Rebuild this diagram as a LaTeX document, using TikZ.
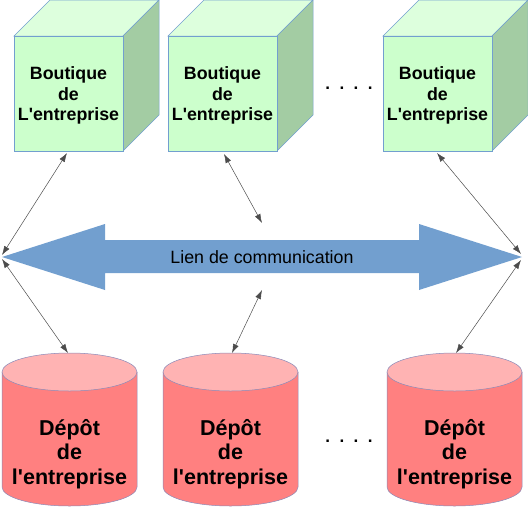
\documentclass[tikz,border=0pt]{standalone}
\usepackage{fontspec}
\setmainfont{Liberation Sans}[Ligatures=TeXOff]
\usetikzlibrary{arrows.meta}
\definecolor{cubefront}{HTML}{CCFFCC}
\definecolor{cubetop}{HTML}{DDFFDD}
\definecolor{cubeside}{HTML}{A3CCA3}
\definecolor{cubeedge}{HTML}{729FCF}
\definecolor{cylbody}{HTML}{FF8080}
\definecolor{cyltop}{HTML}{FFB3B3}
\definecolor{cyledge}{HTML}{8A8AB8}
\definecolor{linkblue}{HTML}{729FCF}
\tikzset{
  cubetext/.style={font=\fontsize{17.8}{20.5}\selectfont\bfseries, align=center, inner sep=0pt},
  cyltext/.style={font=\fontsize{21.5}{24.5}\selectfont\bfseries, align=center, inner sep=0pt},
  conn/.style={draw=black!70, line width=0.5pt, {Latex[length=9pt,width=6pt]}-{Latex[length=9pt,width=6pt]}},
  dots/.style={font=\fontsize{17}{20}\selectfont\bfseries, inner sep=0pt}
}
\newcommand{\mycube}[3]{% x of front left, name, text
  \fill[cubetop,draw=cubeedge,line width=0.5pt] (#1,36) -- (#1+36,0) -- (#1+145,0) -- (#1+109,36) -- cycle;
  \fill[cubeside,draw=cubeedge,line width=0.5pt] (#1+109,36) -- (#1+145,0) -- (#1+145,115) -- (#1+109,151) -- cycle;
  \fill[cubefront,draw=cubeedge,line width=0.5pt] (#1,36) rectangle (#1+109,151);
  \node[cubetext] (#2) at (#1+54.5,95.5) {#3};
}
\newcommand{\mycyl}[3]{% center x, name, text
  \fill[cylbody,draw=cyledge,line width=0.5pt] (#1-67.5,372) -- (#1-67.5,487) arc[start angle=180,end angle=0,x radius=67.5,y radius=19] -- (#1+67.5,372) -- cycle;
  \fill[cyltop,draw=cyledge,line width=0.5pt] (#1,372) ellipse[x radius=67.5,y radius=19];
  \node[cyltext] (#2) at (#1,454) {#3};
}
\begin{document}
\begin{tikzpicture}[x=1pt,y=-1pt]
\useasboundingbox (0,0) rectangle (528,507);
\mycube{14}{b1}{Boutique\\de\\L'entreprise}
\mycube{168}{b2}{Boutique\\de\\L'entreprise}
\mycube{383}{b3}{Boutique\\de\\L'entreprise}
\node[dots] (d1) at (349,88) {.\ \ .\ \ .\ \ .};
\mycyl{69.5}{c1}{Dépôt\\de\\l'entreprise}
\mycyl{230.5}{c2}{Dépôt\\de\\l'entreprise}
\mycyl{454.5}{c3}{Dépôt\\de\\l'entreprise}
\node[dots] (d2) at (349,441) {.\ \ .\ \ .\ \ .};
% big double arrow
\fill[linkblue] (2,257) -- (105,224) -- (105,240) -- (419,240) -- (419,224) -- (522,257) -- (419,290) -- (419,273) -- (105,273) -- (105,290) -- cycle;
\node[font=\fontsize{17.8}{20}\selectfont, inner sep=0pt] (lien) at (262,257) {Lien de communication};
\coordinate (lt) at (2,255);
\coordinate (lb) at (2,259);
\coordinate (rt) at (521,254);
\coordinate (rb) at (521,260);
\coordinate (mt) at (262,223);
\coordinate (mb) at (262,290);
\coordinate (c1t) at (68,353);
\coordinate (c2t) at (232,353);
\coordinate (c3t) at (456,353);
\coordinate (b1x) at (67,153);
\coordinate (b2x) at (224,154);
\coordinate (b3x) at (437,153);
\draw[conn] (b1x) -- (lt);
\draw[conn] (lb) -- (c1t);
\draw[conn] (b2x) -- (mt);
\draw[conn] (mb) -- (c2t);
\draw[conn] (b3x) -- (rt);
\draw[conn] (rb) -- (c3t);
\end{tikzpicture}
\end{document}
